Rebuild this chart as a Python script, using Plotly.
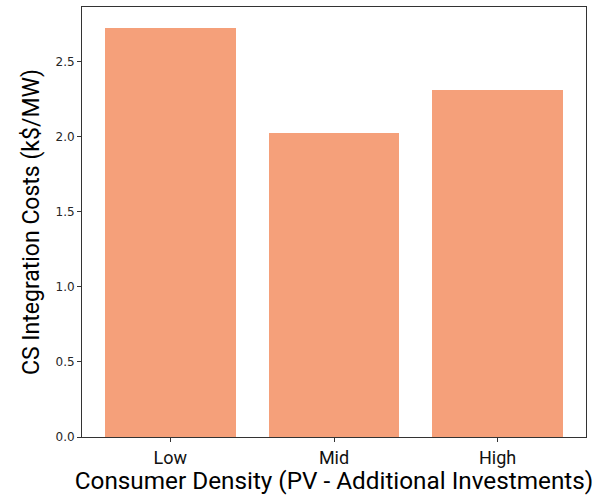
import plotly.graph_objects as go

# Integration cost per consumer-density scenario
categories = ["Low", "Mid", "High"]
costs = [2.723, 2.025, 2.312]

bar_color = "#F5A07A"
label_font = "Roboto, Liberation Sans, sans-serif"

fig = go.Figure(
    go.Bar(
        x=list(range(len(categories))),
        y=costs,
        width=0.8,
        marker=dict(color=bar_color, line=dict(width=0)),
    )
)

axis_common = dict(
    showline=True,
    linecolor="#333333",
    linewidth=1,
    mirror=True,
    ticks="outside",
    ticklen=4,
    tickcolor="#333333",
    showgrid=False,
    zeroline=False,
    automargin=False,
)

fig.update_layout(
    width=597,
    height=495,
    margin=dict(l=82, r=11, t=7, b=58),
    plot_bgcolor="white",
    paper_bgcolor="white",
    showlegend=False,
    bargap=0,
    xaxis=dict(
        **axis_common,
        range=[-0.54, 2.54],
        tickmode="array",
        tickvals=list(range(len(categories))),
        ticktext=categories,
        tickfont=dict(family=label_font, size=18, color="#111111"),
        title=dict(
            text="Consumer Density (PV - Additional Investments)",
            font=dict(family=label_font, size=24.3, color="#000000"),
            standoff=3,
        ),
    ),
    yaxis=dict(
        **axis_common,
        range=[0, 2.865],
        tickmode="array",
        tickvals=[0, 0.5, 1.0, 1.5, 2.0, 2.5],
        ticktext=["0.0", "0.5", "1.0", "1.5", "2.0", "2.5"],
        tickfont=dict(family="DejaVu Sans, sans-serif", size=12, color="#262626"),
        title=dict(
            text="CS Integration Costs (k$/MW)",
            font=dict(family=label_font, size=23, color="#000000"),
            standoff=9,
        ),
    ),
)

fig.write_html("out.html")
